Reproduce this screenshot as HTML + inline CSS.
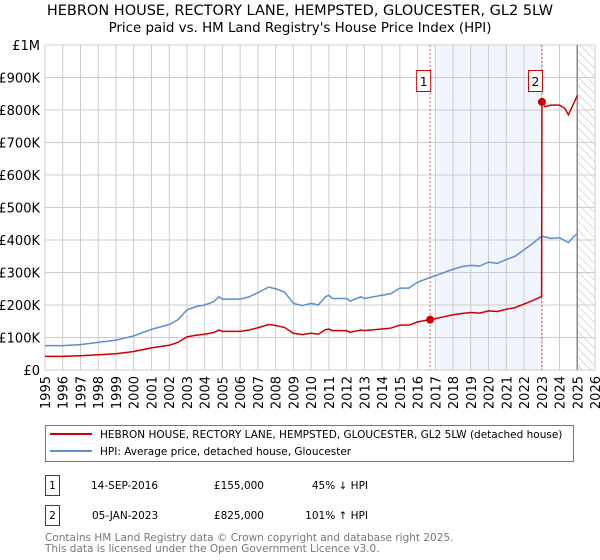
<!DOCTYPE html>
<html><head><meta charset="utf-8"><style>
body{margin:0;background:#fff;font-family:"DejaVu Sans","Liberation Sans",sans-serif;}
svg{display:block}
</style></head><body>
<svg width="600" height="560" xmlns="http://www.w3.org/2000/svg" font-family="DejaVu Sans, Liberation Sans, sans-serif">
<text x="300" y="15" text-anchor="middle" font-size="14.5" fill="#000">HEBRON HOUSE, RECTORY LANE, HEMPSTED, GLOUCESTER, GL2 5LW</text>
<text x="300" y="32" text-anchor="middle" font-size="13.4" fill="#000">Price paid vs. HM Land Registry's House Price Index (HPI)</text>
<defs><pattern id="hatch" width="6" height="6" patternUnits="userSpaceOnUse" patternTransform="rotate(-45)"><line x1="0" y1="0" x2="0" y2="6" stroke="#bbb" stroke-width="1"/></pattern></defs>
<g id="plot"></g>
<g>
<rect x="45.5" y="425.5" width="528" height="36" fill="#fff" stroke="#777"/>
<line x1="50" y1="434" x2="92" y2="434" stroke="#cc0000" stroke-width="2"/>
<text x="100" y="438" font-size="10.5">HEBRON HOUSE, RECTORY LANE, HEMPSTED, GLOUCESTER, GL2 5LW (detached house)</text>
<line x1="50" y1="451" x2="92" y2="451" stroke="#5b8fd0" stroke-width="2"/>
<text x="100" y="455" font-size="10.5">HPI: Average price, detached house, Gloucester</text>
</g>
<g font-size="10.5">
<rect x="45.5" y="475.5" width="14" height="20" fill="none" stroke="#cc0000"/><text x="52.5" y="489" text-anchor="middle">1</text>
<text x="91" y="489">14-SEP-2016</text><text x="264" y="489" text-anchor="end">£155,000</text><text x="368" y="489" text-anchor="end">45% ↓ HPI</text>
<rect x="45.5" y="505.5" width="14" height="20" fill="none" stroke="#cc0000"/><text x="52.5" y="519" text-anchor="middle">2</text>
<text x="92" y="519">05-JAN-2023</text><text x="264" y="519" text-anchor="end">£825,000</text><text x="368" y="519" text-anchor="end">101% ↑ HPI</text>
</g>
<text x="45" y="541" font-size="10.5" fill="#777">Contains HM Land Registry data © Crown copyright and database right 2025.</text>
<text x="45" y="552" font-size="10.5" fill="#777">This data is licensed under the Open Government Licence v3.0.</text>
</svg>
<script>
const yearTicks=[1995,1996,1997,1998,1999,2000,2001,2002,2003,2004,2005,2006,2007,2008,2009,2010,2011,2012,2013,2014,2015,2016,2017,2018,2019,2020,2021,2022,2023,2024,2025,2026];
const valueTicks=[0,100000,200000,300000,400000,500000,600000,700000,800000,900000,1000000];
const valueLabels=["£0","£100K","£200K","£300K","£400K","£500K","£600K","£700K","£800K","£900K","£1M"];
const hpiDates=[1995,1996,1997,1998,1999,2000,2001,2002,2002.5,2003,2003.5,2004,2004.5,2004.8,2005,2006,2006.5,2007,2007.6,2008,2008.5,2009,2009.5,2010,2010.4,2010.8,2011,2011.2,2012,2012.2,2012.8,2013,2014,2014.5,2015,2015.5,2016,2016.7,2017,2017.5,2018,2018.5,2019,2019.5,2020,2020.5,2021,2021.5,2022,2022.5,2023,2023.5,2024,2024.5,2024.8,2025];
const hpiValues=[75,75,78,85,92,105,125,140,155,185,195,200,210,225,218,218,225,238,255,250,240,205,198,205,200,225,230,220,220,212,225,220,230,235,252,252,270,285,290,300,310,318,322,320,332,328,340,350,370,390,412,405,407,392,410,420];
const priceDates=[1995,1996,1997,1998,1999,2000,2001,2002,2002.5,2003,2003.5,2004,2004.5,2004.8,2005,2006,2006.5,2007,2007.6,2008,2008.5,2009,2009.5,2010,2010.4,2010.8,2011,2011.2,2012,2012.2,2012.8,2013,2014,2014.5,2015,2015.5,2016,2016.71,2017,2017.5,2018,2018.5,2019,2019.5,2020,2020.5,2021,2021.5,2022,2022.5,2022.99,2023.01,2023.2,2023.5,2024,2024.3,2024.5,2024.8,2025];
const priceValues=[42,42,44,47,50,57,68,76,85,102,107,110,115,123,119,119,123,130,140,137,131,113,109,113,110,124,126,121,121,116,123,121,126,129,138,138,148,155,158,164,170,174,177,175,182,180,187,192,203,214,226,825,810,815,815,805,785,820,845];
const saleDates=[2016.71,2023.01];
const saleValues=[155,825];
const saleLabels=["1","2"];
const L=45,R=595,T=45,B=370,X0=1995,X1=2026;
const xs=d=>L+(d-X0)/(X1-X0)*(R-L);
const ys=v=>B-v/1000000*(B-T);
const NS="http://www.w3.org/2000/svg";
const g=document.getElementById('plot');
function mk(tag,a,parent){const e=document.createElementNS(NS,tag);for(const k in a)e.setAttribute(k,a[k]);(parent||g).appendChild(e);return e;}
let e=mk('rect',{x:xs(2017),y:T,width:xs(2023.01)-xs(2017),height:B-T,fill:'#eef3fc',opacity:0.8});


e=mk('rect',{x:xs(2025),y:T,width:R-xs(2025),height:B-T,fill:'url(#hatch)'});


yearTicks.forEach(y=>{const l=mk('line',{x1:xs(y),x2:xs(y),y1:T,y2:B,stroke:'#ccc','stroke-width':1});


const t=mk('text',{x:0,y:0,'font-size':13,'text-anchor':'end',transform:`translate(${xs(y)+5},${B+6}) rotate(-90)`});t.textContent=y;

});
valueTicks.forEach((v,i)=>{const l=mk('line',{x1:L,x2:R,y1:ys(v),y2:ys(v),stroke:'#ccc','stroke-width':1});


const t=mk('text',{x:L-5,y:ys(v)+5,'font-size':13,'text-anchor':'end'});t.textContent=valueLabels[i];

});
e=mk('line',{x1:xs(2025),x2:xs(2025),y1:T,y2:B,stroke:'#888','stroke-width':1.5});


saleDates.forEach((d,i)=>{const l=mk('line',{x1:xs(d),x2:xs(d),y1:T,y2:B,stroke:'#e06060','stroke-width':1,'stroke-dasharray':'2,2'});


const r=mk('rect',{x:xs(d)-13.5,y:70.5,width:14,height:21,fill:'#fff',stroke:'#cc0000'});


const t=mk('text',{x:xs(d)-6.5,y:86,'font-size':12.5,'text-anchor':'middle'});t.textContent=saleLabels[i];

});
e=mk('polyline',{points:hpiDates.map((d,i)=>xs(d)+','+ys(hpiValues[i]*1000)).join(' '),fill:'none',stroke:'#5b8fd0','stroke-width':1.5});


e=mk('polyline',{points:priceDates.map((d,i)=>xs(d)+','+ys(priceValues[i]*1000)).join(' '),fill:'none',stroke:'#cc0000','stroke-width':1.5});


saleDates.forEach((d,i)=>{const c=mk('circle',{cx:xs(d),cy:ys(saleValues[i]*1000),r:4,fill:'#cc0000'});

});
</script>
</body></html>
